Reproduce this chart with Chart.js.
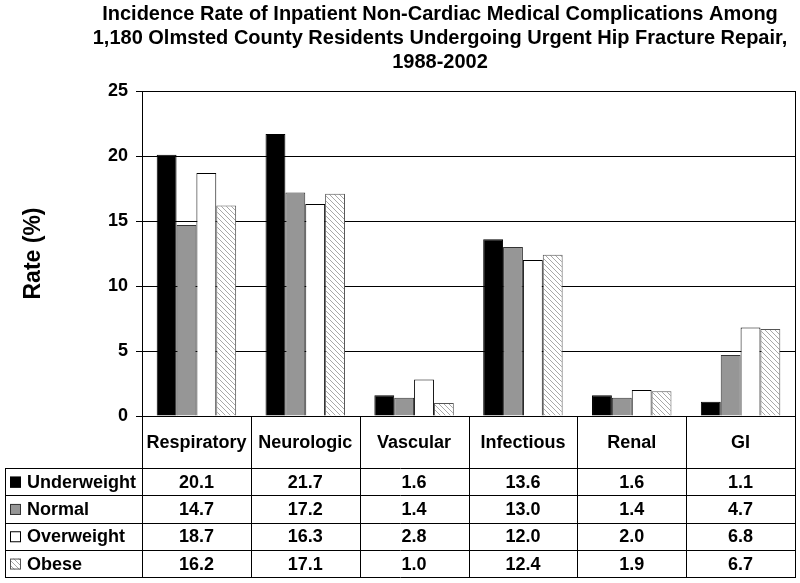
<!DOCTYPE html>
<html>
<head>
<meta charset="utf-8">
<script src="https://cdn.jsdelivr.net/npm/chart.js@4.4.0/dist/chart.umd.min.js"></script>
<style>
  body { margin: 0; background: #fff; }
  canvas { display: block; }
</style>
</head>
<body>
<canvas id="chart" width="800" height="583"></canvas>
<script>
// data
const titleLines = [
  'Incidence Rate of Inpatient Non-Cardiac Medical Complications Among',
  '1,180 Olmsted County Residents Undergoing Urgent Hip Fracture Repair,',
  '1988-2002'
];
const categories = ['Respiratory', 'Neurologic', 'Vascular', 'Infectious', 'Renal', 'GI'];
const seriesNames = ['Underweight', 'Normal', 'Overweight', 'Obese'];
const underweight = [20.1, 21.7, 1.6, 13.6, 1.6, 1.1];
const normal = [14.7, 17.2, 1.4, 13.0, 1.4, 4.7];
const overweight = [18.7, 16.3, 2.8, 12.0, 2.0, 6.8];
const obese = [16.2, 17.1, 1.0, 12.4, 1.9, 6.7];
const yTicks = [0, 5, 10, 15, 20, 25];

// diagonal hatch for the Obese bars
function makeHatch() {
  const c = document.createElement('canvas');
  c.width = 5; c.height = 5;
  const g = c.getContext('2d');
  g.fillStyle = '#fff';
  g.fillRect(0, 0, 5, 5);
  g.strokeStyle = '#a8a8a8';
  g.lineWidth = 1;
  g.beginPath();
  g.moveTo(-1, -1); g.lineTo(6, 6);
  g.moveTo(-1, 4); g.lineTo(1, 6);
  g.moveTo(4, -1); g.lineTo(6, 1);
  g.stroke();
  return g.createPattern(c, 'repeat');
}
const hatch = makeHatch();

const fills = ['#000000', '#969696', '#ffffff', hatch];
const borders = ['#000000', '#333333', '#000000', '#555555'];
const allValues = [underweight, normal, overweight, obese];

const FONT = "'Liberation Sans', Arial, sans-serif";
Chart.defaults.color = '#000';
Chart.defaults.font.family = FONT;

// title drawn centred over the chart block
const titlePlugin = {
  id: 'titleText',
  afterDraw(chart) {
    const ctx = chart.ctx;
    ctx.save();
    ctx.fillStyle = '#000';
    ctx.font = "bold 20px 'Liberation Sans Narrow', 'Arial Narrow', sans-serif";
    ctx.textAlign = 'center';
    ctx.textBaseline = 'middle';
    titleLines.forEach((t, i) => ctx.fillText(t, 440, 14 + i * 24));
    ctx.restore();
  }
};

// data table under the plot, columns taken from the x scale
const tablePlugin = {
  id: 'dataTable',
  afterDraw(chart) {
    const ctx = chart.ctx;
    const area = chart.chartArea;
    const xs = chart.scales.x;
    const colW = xs.getPixelForValue(1) - xs.getPixelForValue(0);
    const headTop = area.bottom;
    const headBottom = headTop + 52;
    const rowH = 27.3;
    const tableLeft = 5;
    const tableBottom = headBottom + rowH * seriesNames.length;

    ctx.save();
    ctx.strokeStyle = '#000';
    ctx.lineWidth = 1;
    ctx.beginPath();
    // right border of plot + table
    ctx.moveTo(area.right + 0.5, area.top);
    ctx.lineTo(area.right + 0.5, tableBottom);
    // column separators
    for (let i = 0; i < categories.length; i++) {
      const x = Math.round(area.left + i * colW) + 0.5;
      ctx.moveTo(x, headTop);
      ctx.lineTo(x, tableBottom);
    }
    // row lines
    for (let r = 0; r <= seriesNames.length; r++) {
      const y = Math.round(headBottom + r * rowH) + 0.5;
      ctx.moveTo(tableLeft, y);
      ctx.lineTo(area.right + 1, y);
    }
    ctx.moveTo(tableLeft + 0.5, headBottom);
    ctx.lineTo(tableLeft + 0.5, tableBottom);
    ctx.stroke();

    ctx.fillStyle = '#000';
    ctx.font = 'bold 18px ' + FONT;
    ctx.textBaseline = 'middle';
    ctx.textAlign = 'center';
    categories.forEach((c, i) => {
      ctx.fillText(c, xs.getPixelForValue(i), (headTop + headBottom) / 2 + 1);
    });
    seriesNames.forEach((name, r) => {
      const yc = headBottom + r * rowH + rowH / 2 + 1;
      // legend key
      ctx.fillStyle = fills[r];
      ctx.fillRect(tableLeft + 5, yc - 6, 11, 11);
      ctx.strokeStyle = borders[r];
      ctx.strokeRect(tableLeft + 5.5, yc - 5.5, 10, 10);
      ctx.fillStyle = '#000';
      ctx.textAlign = 'left';
      ctx.fillText(name, tableLeft + 22, yc);
      ctx.textAlign = 'center';
      allValues[r].forEach((v, i) => {
        ctx.fillText(v.toFixed(1), xs.getPixelForValue(i), yc);
      });
    });
    ctx.restore();
  }
};

new Chart(document.getElementById('chart'), {
  type: 'bar',
  data: {
    labels: categories,
    datasets: seriesNames.map((name, i) => ({
      label: name,
      data: allValues[i],
      backgroundColor: fills[i],
      borderColor: borders[i],
      borderWidth: 1,
      borderSkipped: 'start',
      categoryPercentage: 0.73,
      barPercentage: 1.0
    }))
  },
  options: {
    responsive: false,
    animation: false,
    layout: { padding: { left: 0, right: 5, top: 91, bottom: 167 } },
    plugins: {
      legend: { display: false },
      title: { display: false },
      tooltip: { enabled: false }
    },
    scales: {
      x: {
        ticks: { display: false },
        grid: { display: false },
        border: { display: false },
        afterFit: s => { s.height = 0; }
      },
      y: {
        min: 0,
        max: 25,
        afterBuildTicks: s => { s.ticks = yTicks.map(v => ({ value: v })); },
        afterFit: s => { s.width = 142; },
        ticks: { font: { size: 18, weight: 'bold' }, padding: 8 },
        grid: { color: '#000', lineWidth: 1, tickLength: 6 },
        border: { color: '#000', width: 1 },
        title: {
          display: true,
          text: 'Rate (%)',
          font: { size: 23, weight: 'bold' },
          padding: { top: 20 }
        }
      }
    }
  },
  plugins: [titlePlugin, tablePlugin]
});
</script>
</body>
</html>
